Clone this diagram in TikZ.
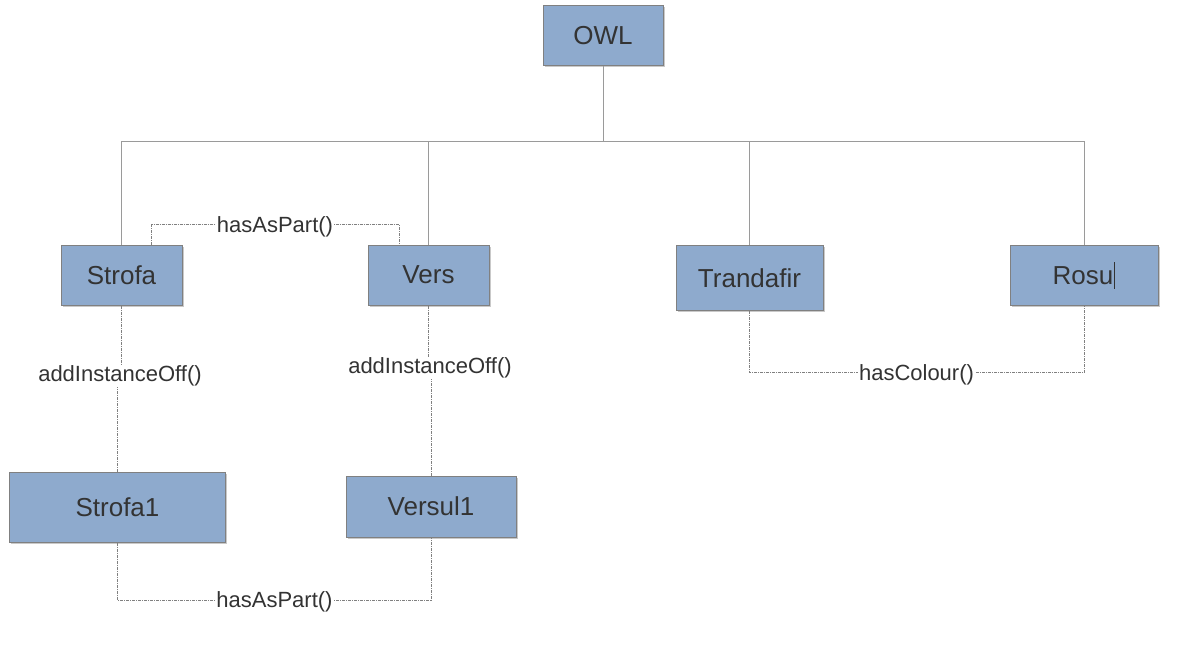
\documentclass[tikz,border=0pt]{standalone}
\usepackage{fontspec}
\setmainfont{Liberation Sans}
\usetikzlibrary{calc,shadows}
\definecolor{boxfill}{HTML}{8EAACD}
\definecolor{boxdraw}{HTML}{808080}
\definecolor{txt}{HTML}{333333}
\definecolor{treeline}{HTML}{9A9A9A}
\tikzset{
  cls/.style={draw=boxdraw, line width=1pt, fill=boxfill, text=txt, inner sep=0pt,
    font=\fontsize{26}{31}\selectfont,
    drop shadow={shadow xshift=1.5pt, shadow yshift=-1.5pt, opacity=0.35, fill=black!60}},
  tree/.style={draw=treeline, line width=1pt},
  rel/.style={draw=gray, line width=0.9pt, dash pattern=on 3pt off 1pt on 1pt off 1pt},
  lbl/.style={fill=white, text=txt, inner sep=1pt, yshift=-2pt, font=\fontsize{22}{26}\selectfont}
}
\begin{document}
\begin{tikzpicture}[x=1pt,y=-1pt]
\useasboundingbox (0,0) rectangle (1178,658);
\fill[white] (0,0) rectangle (1178,658);
% boxes
\node[cls, minimum width=120pt, minimum height=60pt] (OWL) at (603,36) {OWL};
\node[cls, minimum width=121pt, minimum height=60pt] (Strofa) at (121.5,275) {Strofa};
\node[cls, minimum width=121pt, minimum height=60pt] (Vers) at (428.5,275) {Vers};
\node[cls, minimum width=147pt, minimum height=65pt] (Trandafir) at (749.5,277.75) {Trandafir};
\node[cls, minimum width=148pt, minimum height=60pt] (Rosu) at (1084,275) {Rosu\hspace{1pt}\rule[-4pt]{1.2pt}{27pt}};
\node[cls, minimum width=216pt, minimum height=70pt] (Strofa1) at (117.5,507) {Strofa1};
\node[cls, minimum width=170pt, minimum height=61pt] (Versul1) at (431,506.5) {Versul1};
% tree
\coordinate (bus) at (603,142);
\draw[tree] (OWL.south) -- (bus);
\draw[tree] (Strofa.north) |- (bus);
\draw[tree] (Vers.north) |- (bus);
\draw[tree] (Trandafir.north) |- (bus);
\draw[tree] (Rosu.north) |- (bus);
% hasAsPart top
\draw[rel] ($(Strofa.north)+(30,0)$) |- ($(Vers.north)+(-29.5,-20)$) -- ($(Vers.north)+(-29.5,0)$);
\node[lbl] (hp1) at (275,225) {hasAsPart()};
% addInstanceOff
\node[lbl] (ai1) at (120,374) {addInstanceOff()};
\draw[rel] (Strofa.south) -- (Strofa.south |- ai1.north);
\draw[rel] (Strofa1.north) -- (Strofa1.north |- ai1.south);
\node[lbl] (ai2) at (430,366) {addInstanceOff()};
\draw[rel] (Vers.south) -- (Vers.south |- ai2.north);
\draw[rel] (Versul1.north) -- (Versul1.north |- ai2.south);
% hasColour
\coordinate (hc) at (916.5,372.5);
\draw[rel] (Trandafir.south) |- (hc) -| (Rosu.south);
\node[lbl] (hcl) at (hc) {hasColour()};
% hasAsPart bottom
\coordinate (hb) at (274.5,600);
\draw[rel] (Strofa1.south) |- (hb) -| (Versul1.south);
\node[lbl] (hp2) at (hb) {hasAsPart()};
\end{tikzpicture}
\end{document}
